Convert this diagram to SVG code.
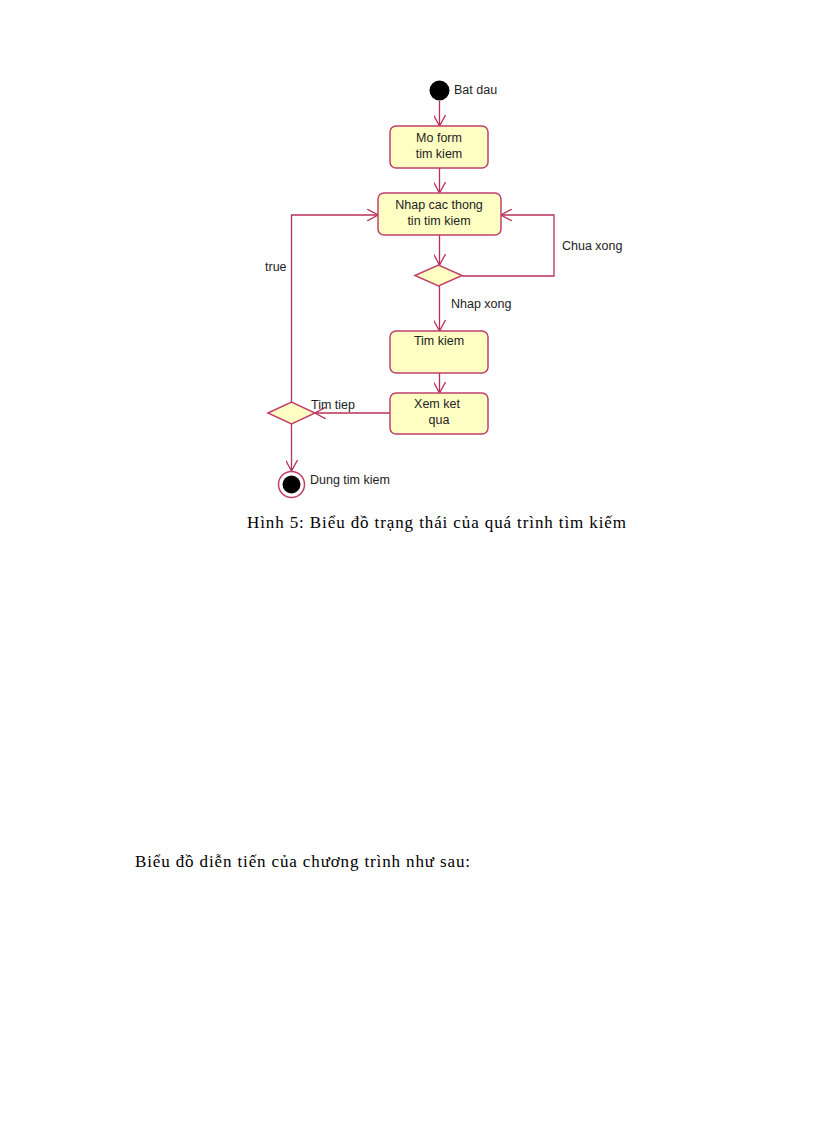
<svg xmlns="http://www.w3.org/2000/svg" width="816" height="1123" viewBox="0 0 816 1123">
<style>
.n{fill:#ffffc4;stroke:#c0406a;stroke-width:1.5}
.c{fill:none;stroke:#b8305a;stroke-width:1.3}
.t{font-family:"Liberation Sans",Arial,sans-serif;font-size:12.5px;fill:#222}
.m{text-anchor:middle}
.cap{font-family:"Liberation Serif","Times New Roman",serif;font-size:17px;fill:#000}
</style>
<defs><marker id="a" viewBox="0 0 12 12" refX="11" refY="6" markerWidth="12" markerHeight="12" markerUnits="userSpaceOnUse" orient="auto"><path d="M0,0 L11,6 L0,12" fill="none" stroke="#b8305a" stroke-width="1.3"/></marker></defs>
<rect width="816" height="1123" fill="#fff"/>
<g id="connectors">
<line class="c" x1="439.5" y1="101" x2="439.5" y2="126" marker-end="url(#a)"/>
<line class="c" x1="439.5" y1="168" x2="439.5" y2="193" marker-end="url(#a)"/>
<line class="c" x1="439.5" y1="235" x2="439.5" y2="265" marker-end="url(#a)"/>
<polyline class="c" points="462,276 554,276 554,215 501,215" marker-end="url(#a)"/>
<line class="c" x1="439.5" y1="286" x2="439.5" y2="331" marker-end="url(#a)"/>
<line class="c" x1="439.5" y1="373" x2="439.5" y2="393" marker-end="url(#a)"/>
<line class="c" x1="390" y1="413" x2="315" y2="413" marker-end="url(#a)"/>
<polyline class="c" points="291.5,402 291.5,215 378,215" marker-end="url(#a)"/>
<line class="c" x1="291.5" y1="424" x2="291.5" y2="471" marker-end="url(#a)"/>
</g>
<g id="start"><circle cx="439.5" cy="90.5" r="10" fill="#000"/><text class="t" x="454" y="94">Bat dau</text></g>
<g id="mo"><rect class="n" x="390" y="126" width="98" height="42" rx="6"/><text class="t m" x="439" y="142">Mo form</text><text class="t m" x="439" y="158">tim kiem</text></g>
<g id="nhap"><rect class="n" x="378" y="193" width="123" height="42" rx="6"/><text class="t m" x="439" y="209">Nhap cac thong</text><text class="t m" x="439" y="225">tin tim kiem</text></g>
<g id="d1"><polygon class="n" points="415,275.5 438.5,265 462,275.5 438.5,286"/></g>
<g id="tim"><rect class="n" x="390" y="331" width="98" height="42" rx="6"/><text class="t m" x="439" y="345">Tim kiem</text></g>
<g id="xem"><rect class="n" x="390" y="393" width="98" height="41" rx="6"/><text class="t m" x="437" y="408">Xem ket</text><text class="t m" x="439" y="424">qua</text></g>
<g id="d2"><polygon class="n" points="268,413 291.5,402 315,413 291.5,424"/></g>
<g id="end"><circle cx="291.5" cy="484.5" r="13" fill="#fff" stroke="#c0406a" stroke-width="1.5"/><circle cx="291.5" cy="484.5" r="9" fill="#000"/><text class="t" x="310" y="484">Dung tim kiem</text></g>
<g id="labels">
<text class="t" x="562" y="250">Chua xong</text>
<text class="t" x="451" y="308">Nhap xong</text>
<text class="t" x="265" y="271">true</text>
<text class="t" x="311" y="409">Tim tiep</text>
</g>
<text class="cap" x="247" y="528" textLength="379" lengthAdjust="spacing">Hình 5: Biểu  đồ trạng thái  của quá trình tìm kiếm</text>
<text class="cap" x="135" y="867" textLength="335" lengthAdjust="spacing">Biểu  đồ diễn tiến  của chương trình như sau:</text>
</svg>
